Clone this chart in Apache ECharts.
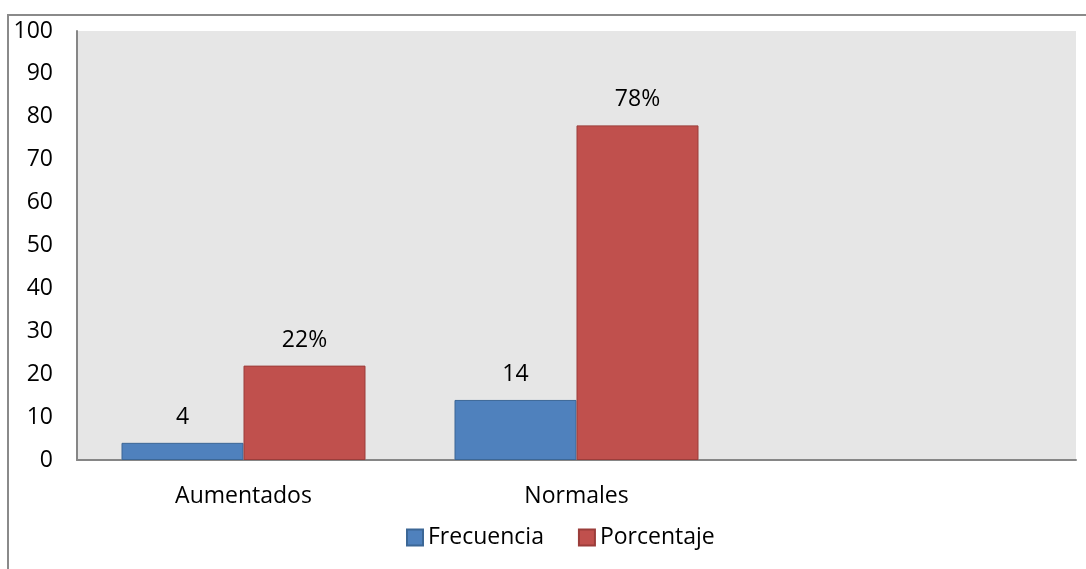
<!DOCTYPE html>
<html>
<head>
<meta charset="utf-8">
<script src="https://cdn.jsdelivr.net/npm/echarts@6/dist/echarts.min.js"></script>
<style>
  html, body { margin: 0; padding: 0; background: #fff; }
  #main { width: 1086px; height: 569px; }
</style>
</head>
<body>
<div id="main"></div>
<script>
// datos
let categorias = ['Aumentados', 'Normales', ''];
let frecuencia = [4, 14, null];
let porcentaje = [22, 78, null];
let etiquetasPct = ['22%', '78%', ''];

let chart = echarts.init(document.getElementById('main'));

let fuente = '"Open Sans", "Noto Sans", sans-serif';
let tam = 23;

let option = {
  animation: false,
  textStyle: { fontFamily: fuente },
  graphic: [
    {
      // marco exterior (solo izquierda y arriba visibles)
      type: 'polyline',
      shape: { points: [[8, 569], [8, 15], [1086, 15]] },
      style: { stroke: '#8a8a8a', lineWidth: 2, fill: null }
    }
  ],
  grid: {
    left: 77,
    right: 10,
    top: 31,
    bottom: 109,
    show: true,
    backgroundColor: '#e6e6e6',
    borderWidth: 0
  },
  legend: {
    bottom: 15,
    left: 401,
    itemWidth: 16,
    itemHeight: 16,
    itemGap: 34,
    icon: 'rect',
    textStyle: { fontSize: tam, color: '#000', fontFamily: fuente },
    data: ['Frecuencia', 'Porcentaje']
  },
  xAxis: {
    type: 'category',
    data: categorias,
    axisLine: { show: true, lineStyle: { color: '#868686', width: 2 } },
    axisTick: { show: false },
    axisLabel: { color: '#000', fontSize: tam, margin: 25, fontFamily: fuente },
    splitLine: { show: false }
  },
  yAxis: {
    type: 'value',
    min: 0,
    max: 100,
    interval: 10,
    axisLine: { show: true, lineStyle: { color: '#868686', width: 2 } },
    axisTick: { show: false },
    splitLine: { show: false },
    axisLabel: { color: '#000', fontSize: tam, margin: 24, fontFamily: fuente }
  },
  series: [
    {
      name: 'Frecuencia',
      type: 'bar',
      data: frecuencia,
      barWidth: 122,
      barGap: '0%',
      itemStyle: { color: '#4f81bd', borderColor: '#3c6796', borderWidth: 1 },
      label: {
        show: true,
        position: 'top',
        distance: 14,
        color: '#000',
        fontSize: tam,
        fontFamily: fuente
      }
    },
    {
      name: 'Porcentaje',
      type: 'bar',
      data: porcentaje,
      barWidth: 122,
      barGap: '0%',
      itemStyle: { color: '#c0504d', borderColor: '#9b3d3a', borderWidth: 1 },
      label: {
        show: true,
        position: 'top',
        distance: 14,
        color: '#000',
        fontSize: tam,
        fontFamily: fuente,
        formatter: function (p) {
          return etiquetasPct[p.dataIndex];
        }
      }
    }
  ]
};

chart.setOption(option);
</script>
</body>
</html>
